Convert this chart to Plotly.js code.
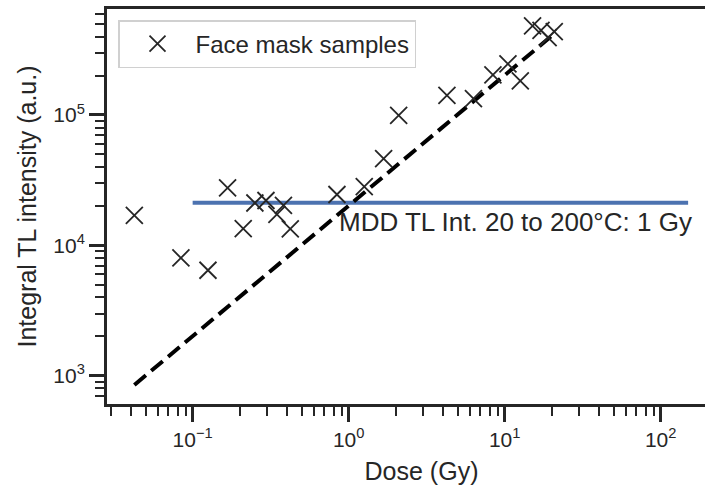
<!DOCTYPE html>
<html>
<head>
<meta charset="utf-8">
<script src="https://cdn.plot.ly/plotly-3.0.1.min.js"></script>
<style>
html, body { margin: 0; padding: 0; overflow: hidden; background: #fff; }
#chart { width: 760px; height: 495px; }
</style>
</head>
<body>
<div id="chart"></div>
<script>
// Face mask samples: dose (Gy) and integral TL intensity (a.u.)
const sampleDose = [0.0423, 0.0841, 0.1254, 0.1675, 0.211, 0.2506, 0.2951, 0.3468, 0.382, 0.4226,
  0.8414, 1.259, 1.676, 2.092, 4.266, 6.31, 8.41, 10.5, 12.6, 15.1, 17.1, 19.0, 20.8];
const sampleIntensity = [17000, 8000, 6440, 27550, 13430, 21130, 22080, 17260, 20230, 13370,
  24550, 28240, 46350, 99300, 141300, 133300, 203200, 246700, 182800, 482000, 445700, 392800, 436500];

// Linear calibration fit (dashed) endpoints
const fitDose = [0.0423, 20.8];
const fitIntensity = [850, 420000];

// MDD level (horizontal line)
const mddDose = [0.1, 150];
const mddIntensity = [21200, 21200];

const mddLabel = 'MDD TL Int. 20 to 200°C: 1 Gy';
const legendLabel = 'Face mask samples';
const xTitle = 'Dose (Gy)';
const yTitle = 'Integral TL intensity (a.u.)';

const xTickVals = [0.1, 1, 10, 100];
const xTickText = ['10<sup>\u22121</sup>', '10<sup>0</sup>', '10<sup>1</sup>', '10<sup>2</sup>'];
const yTickVals = [1000, 10000, 100000];
const yTickText = ['10<sup>3</sup>', '10<sup>4</sup>', '10<sup>5</sup>'];

const ink = '#262626';
const font = 'Liberation Sans, Arial, sans-serif';

const traces = [
  {
    x: mddDose, y: mddIntensity, mode: 'lines', showlegend: false,
    line: { color: '#4c72b0', width: 4 }, hoverinfo: 'skip'
  },
  {
    x: fitDose, y: fitIntensity, mode: 'lines', showlegend: false,
    line: { color: '#000000', width: 4, dash: '15px,7px' }, hoverinfo: 'skip'
  },
  {
    x: sampleDose, y: sampleIntensity, mode: 'markers', name: legendLabel,
    marker: { symbol: 'x-thin-open', size: 17, color: ink, line: { color: ink, width: 1.8 } }
  }
];

const axisCommon = {
  type: 'log',
  showgrid: false, zeroline: false,
  showline: true, linecolor: ink, linewidth: 3, mirror: true,
  ticks: 'outside', ticklen: 15, tickwidth: 3, tickcolor: ink,
  tickmode: 'array',
  tickfont: { family: font, size: 21, color: ink },
  minor: { ticks: 'outside', ticklen: 9, tickwidth: 2, tickcolor: ink, dtick: 'D1', showgrid: false }
};

const layout = {
  width: 760, height: 495,
  margin: { l: 107, r: 24, t: 9, b: 91 },
  paper_bgcolor: '#ffffff', plot_bgcolor: '#ffffff',
  font: { family: font, color: ink },
  showlegend: true,
  legend: {
    x: 0.0175, y: 0.972, xanchor: 'left', yanchor: 'top',
    bgcolor: '#ffffff', bordercolor: '#d0d0d0', borderwidth: 1.5,
    font: { family: font, size: 24, color: ink },
    itemwidth: 66, tracegroupgap: 0
  },
  xaxis: Object.assign({}, axisCommon, {
    range: [-1.549, 2.483],
    tickvals: xTickVals, ticktext: xTickText,
    title: { text: xTitle, font: { family: font, size: 25, color: ink }, standoff: 13 }
  }),
  yaxis: Object.assign({}, axisCommon, {
    range: [2.783, 5.813],
    tickvals: yTickVals, ticktext: yTickText,
    title: { text: yTitle, font: { family: font, size: 25, color: ink }, standoff: 10 }
  }),
  annotations: [
    {
      x: Math.log10(0.841), y: Math.log10(15000), xref: 'x', yref: 'y',
      text: mddLabel, showarrow: false, xanchor: 'left', yanchor: 'middle',
      font: { family: font, size: 26, color: ink }
    }
  ]
};

Plotly.newPlot('chart', traces, layout, { displayModeBar: false, staticPlot: true });
</script>
</body>
</html>
